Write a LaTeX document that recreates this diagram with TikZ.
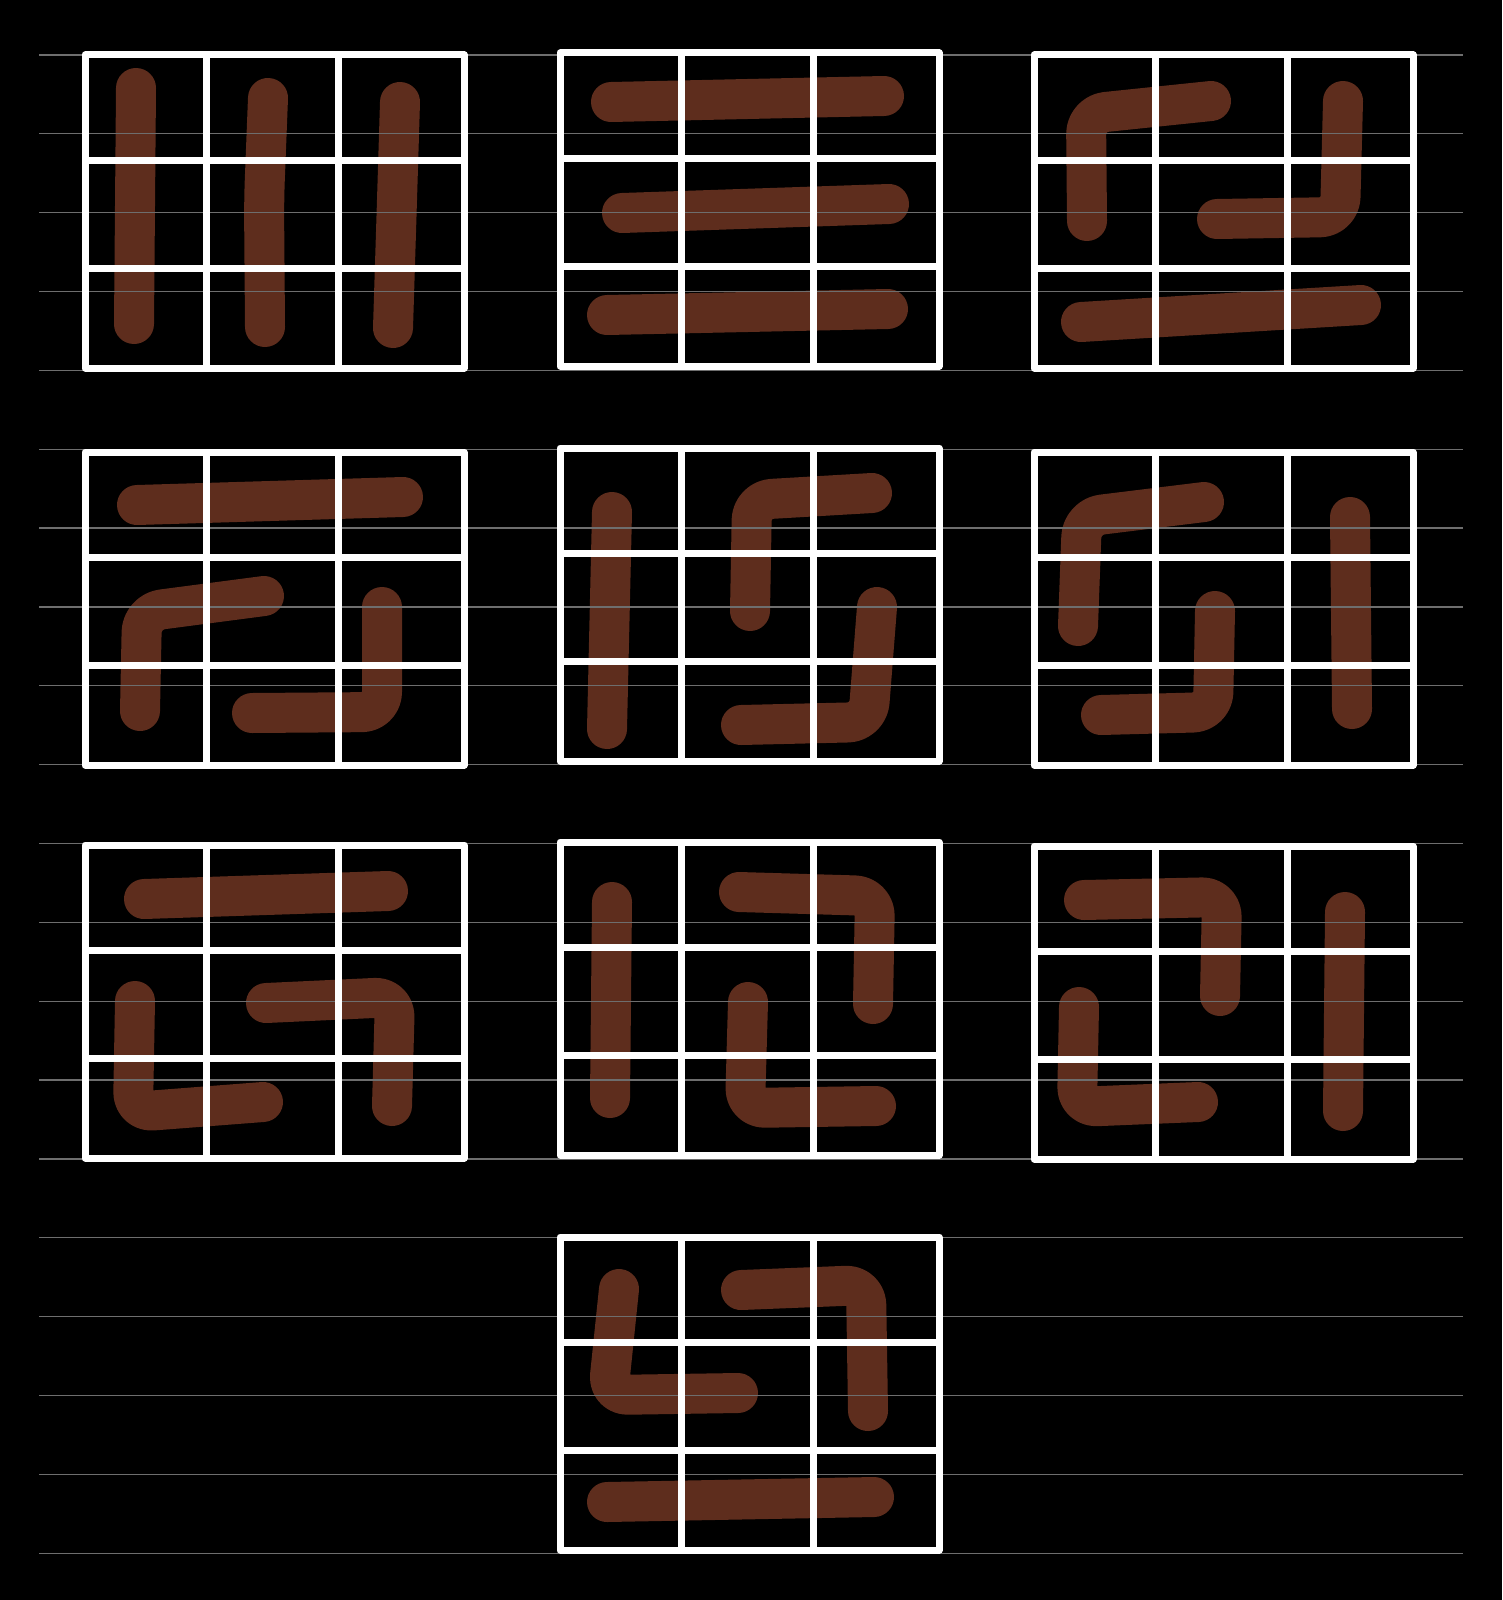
\documentclass[tikz,border=0pt]{standalone}
\usepackage{tikz}
\definecolor{inkBrown}{HTML}{5E2D1D}
\definecolor{ruleGray}{HTML}{6E6E6E}

\begin{document}
\begin{tikzpicture}[x=1pt,y=-1pt,
   penstroke/.style={draw=inkBrown,line width=40pt,line cap=round,line join=round,
                     rounded corners=20pt},
   ruling/.style={draw=ruleGray,line width=1.3pt},
   cellgrid/.style={draw=white,line width=7pt,line join=round}]
  \fill[black] (0,0) rectangle (1502,1600);
  \useasboundingbox (0,0) rectangle (1502,1600);

  % row 1
  \draw[penstroke] (136,88) -- (134,324);
  \draw[penstroke] (268,98) -- (264,200) -- (265,327);
  \draw[penstroke] (400,102) -- (397,200) -- (393,328);
  \draw[penstroke] (611,102) -- (884,96);
  \draw[penstroke] (622,213) -- (889,204);
  \draw[penstroke] (607,315) -- (888,309);
  \draw[penstroke] (1211,101) -- (1086,114) -- (1087,221);
  \draw[penstroke] (1343,101) -- (1340,217) -- (1217,219);
  \draw[penstroke] (1081,322) -- (1361,305);
  % row 2
  \draw[penstroke] (137,505) -- (403,497);
  \draw[penstroke] (264,596) -- (142,612) -- (140,711);
  \draw[penstroke] (382,607) -- (382,712) -- (252,713);
  \draw[penstroke] (612,512) -- (607,729);
  \draw[penstroke] (872,493) -- (752,500) -- (750,611);
  \draw[penstroke] (877,607) -- (868,722) -- (741,725);
  \draw[penstroke] (1204,502) -- (1082,517) -- (1078,626);
  \draw[penstroke] (1215,611) -- (1213,712) -- (1101,715);
  \draw[penstroke] (1350,517) -- (1352,709);
  % row 3
  \draw[penstroke] (144,899) -- (388,891);
  \draw[penstroke] (135,1001) -- (133,1112) -- (263,1102);
  \draw[penstroke] (266,1003) -- (395,997) -- (392,1106);
  \draw[penstroke] (612,902) -- (610,1098);
  \draw[penstroke] (739,892) -- (875,896) -- (873,1004);
  \draw[penstroke] (748,1002) -- (745,1108) -- (876,1106);
  \draw[penstroke] (1084,900) -- (1222,897) -- (1220,996);
  \draw[penstroke] (1079,1007) -- (1077,1107) -- (1198,1102);
  \draw[penstroke] (1345,912) -- (1343,1111);
  % row 4
  \draw[penstroke] (619,1289) -- (608,1395) -- (738,1393);
  \draw[penstroke] (741,1290) -- (866,1285) -- (868,1411);
  \draw[penstroke] (607,1502) -- (874,1497);

  % ruled paper
  \foreach \k in {0,...,19}
    \draw[ruling] (39,55+78.85*\k) -- (1463,55+78.85*\k);

  % 3x3 grids
  \foreach \gx/\gy in {85/55,560/53,1034/55,85/452,560/448,1034/452,
                       85/845,560/842,1034/846,560/1237}{
    \draw[cellgrid] (\gx,\gy) rectangle ++(379,313);
    \draw[cellgrid] (\gx+121,\gy) -- ++(0,313) (\gx+253,\gy) -- ++(0,313)
                    (\gx,\gy+105) -- ++(379,0) (\gx,\gy+213) -- ++(379,0);
  }
\end{tikzpicture}
\end{document}
